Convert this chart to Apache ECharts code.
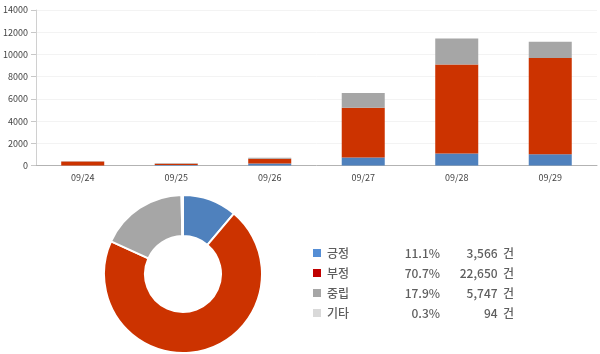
<!DOCTYPE html>
<html><head><meta charset="utf-8">
<script src="https://cdn.jsdelivr.net/npm/echarts@6/dist/echarts.min.js"></script>
<style>html,body{margin:0;padding:0;background:#fff}#c{width:600px;height:354px}</style>
</head><body><div id="c"></div>
<script>
var dates = ['09/24','09/25','09/26','09/27','09/28','09/29'];
var positive = [20, 60, 180, 720, 1080, 1020];
var negative = [340, 100, 430, 4490, 8020, 8670];
var neutral = [40, 60, 90, 1320, 2340, 1450];
var yTicks = [0, 2000, 4000, 6000, 8000, 10000, 12000, 14000];

var sentNames = ['긍정','부정','중립','기타'];
var sentPct = ['11.1%','70.7%','17.9%','0.3%'];
var sentCount = [3566, 22650, 5747, 94];

var barColors = ['#4f81bd','#cc3300','#a6a6a6','#d9d9d9'];
var legendColors = ['#558ed5','#c00000','#a6a6a6','#d9d9d9'];

function fmt(n){return n.toString().replace(/\B(?=(\d{3})+(?!\d))/g, ',');}

var chart = echarts.init(document.getElementById('c'));
var font = "'Noto Sans CJK KR', 'Noto Sans', sans-serif";
var txt = {fontSize:12, color:'#5e5e5e', fontFamily:font, fontWeight:500, lineHeight:14};
function ext(o){var r={};for(var k in txt)r[k]=txt[k];for(var k2 in o)r[k2]=o[k2];return r;}
chart.setOption({
  animation:false,
  textStyle:{fontFamily:font},
  grid:{left:33, right:3, top:10, height:155.6},
  xAxis:{type:'category', data:dates,
    axisLine:{lineStyle:{color:'#b3b3b3', width:1}},
    axisTick:{show:false},
    axisLabel:{fontSize:9, color:'#444', margin:7, fontFamily:font}},
  yAxis:{type:'value', min:yTicks[0], max:yTicks[yTicks.length-1], interval:2000,
    axisLine:{show:true, lineStyle:{color:'#d0d0d0'}},
    axisTick:{show:true, length:5, lineStyle:{color:'#c8c8c8'}},
    splitLine:{lineStyle:{color:'#f3f3f3'}},
    axisLabel:{fontSize:9, color:'#444', margin:8, fontFamily:font,
      formatter:function(v){return String(v);}}},
  legend:{
    orient:'vertical', left:306, top:241, itemWidth:10, itemHeight:10, itemGap:6,
    icon:'rect',
    data: sentNames.map(function(n,i){return {name:n, itemStyle:{color:legendColors[i]}};}),
    formatter:function(name){
      var i = sentNames.indexOf(name);
      return '{n|'+name+'}{p|'+sentPct[i]+'}{c|'+fmt(sentCount[i])+'  건}';
    },
    textStyle:ext({
      rich:{
        n:ext({width:61}),
        p:ext({width:52, align:'right'}),
        c:ext({width:74, align:'right'})
      }})
  },
  series:[
    {type:'bar', name:'bar긍정', stack:'s', data:positive, barWidth:'46%', itemStyle:{color:barColors[0]}},
    {type:'bar', name:'bar부정', stack:'s', data:negative, itemStyle:{color:barColors[1]}},
    {type:'bar', name:'bar중립', stack:'s', data:neutral, itemStyle:{color:barColors[2]}},
    {type:'pie', center:[183,274], radius:[38,79], startAngle:90, clockwise:true,
      label:{show:false}, labelLine:{show:false}, emphasis:{disabled:true},
      itemStyle:{borderColor:'#fff', borderWidth:2},
      data: sentNames.map(function(n,i){return {name:n, value:sentCount[i], itemStyle:{color:barColors[i]}};})
    }
  ]
});
</script></body></html>
